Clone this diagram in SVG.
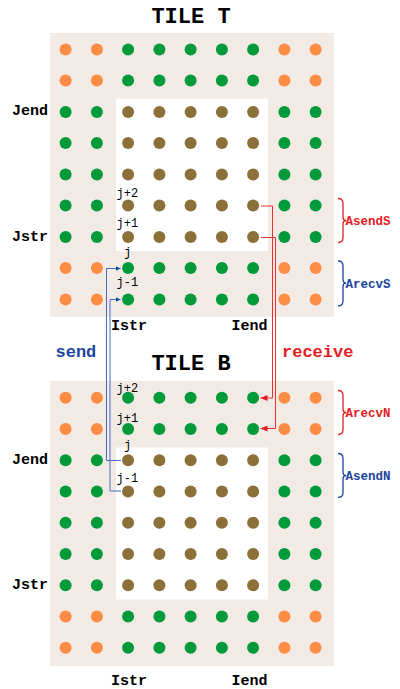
<svg xmlns="http://www.w3.org/2000/svg" xmlns:xlink="http://www.w3.org/1999/xlink" width="400" height="689" viewBox="0 0 400 689">
<style>
.bg{fill:#f2ebe5}
.in{fill:#ffffff}
.o{fill:#fd8c44}
.g{fill:#009a3b}
.b{fill:#8c703a}
.title{font-family:"Liberation Mono","DejaVu Sans Mono",monospace;font-weight:bold;font-size:22px;fill:#000}
.lbl{font-family:"Liberation Mono","DejaVu Sans Mono",monospace;font-weight:bold;font-size:15px;fill:#000}
.idx{font-family:"Liberation Mono","DejaVu Sans Mono",monospace;font-size:12px;fill:#000}
.side{font-family:"Liberation Mono","DejaVu Sans Mono",monospace;font-weight:bold;font-size:12.5px}
.big{font-family:"Liberation Mono","DejaVu Sans Mono",monospace;font-weight:bold;font-size:17px}
.red{fill:#e41b23}
.blue{fill:#1b44a0}
.brR{fill:none;stroke:#e41b23;stroke-width:1.3}
.brB{fill:none;stroke:#1b44a0;stroke-width:1.3}
.cB{fill:none;stroke:#4a6cbc;stroke-width:1}
.cR{fill:none;stroke:#f0302f;stroke-width:1}
</style>
<defs>
<g id="rowA">
<circle class="o" cx="65.6" cy="0" r="6"/><circle class="o" cx="96.9" cy="0" r="6"/>
<circle class="g" cx="128.1" cy="0" r="6"/><circle class="g" cx="159.4" cy="0" r="6"/><circle class="g" cx="190.6" cy="0" r="6"/><circle class="g" cx="221.9" cy="0" r="6"/><circle class="g" cx="253.1" cy="0" r="6"/>
<circle class="o" cx="284.4" cy="0" r="6"/><circle class="o" cx="315.6" cy="0" r="6"/>
</g>
<g id="rowB">
<circle class="g" cx="65.6" cy="0" r="6"/><circle class="g" cx="96.9" cy="0" r="6"/>
<circle class="b" cx="128.1" cy="0" r="6"/><circle class="b" cx="159.4" cy="0" r="6"/><circle class="b" cx="190.6" cy="0" r="6"/><circle class="b" cx="221.9" cy="0" r="6"/><circle class="b" cx="253.1" cy="0" r="6"/>
<circle class="g" cx="284.4" cy="0" r="6"/><circle class="g" cx="315.6" cy="0" r="6"/>
</g>
<marker id="arB" viewBox="0 0 5 5" refX="5" refY="2.5" markerWidth="5" markerHeight="5" markerUnits="userSpaceOnUse" orient="auto"><path d="M0,0 L5,2.5 L0,5 z" fill="#1b44a0"/></marker>
<marker id="arR" viewBox="0 0 7 6" refX="7" refY="3" markerWidth="7" markerHeight="6" markerUnits="userSpaceOnUse" orient="auto"><path d="M0,0 L7,3 L0,6 z" fill="#e41b23"/></marker>
</defs>

<g id="tileT">
<text class="title" x="191" y="22.5" text-anchor="middle">TILE T</text>
<rect class="bg" x="50" y="33" width="284" height="284"/>
<rect class="in" x="116" y="98.5" width="152" height="152.5"/>
<use xlink:href="#rowA" y="49.4"/>
<use xlink:href="#rowA" y="80.6"/>
<use xlink:href="#rowB" y="111.9"/>
<use xlink:href="#rowB" y="143.1"/>
<use xlink:href="#rowB" y="174.4"/>
<use xlink:href="#rowB" y="205.6"/>
<use xlink:href="#rowB" y="236.9"/>
<use xlink:href="#rowA" y="268.1"/>
<use xlink:href="#rowA" y="299.4"/>
<text class="lbl" x="48" y="115" text-anchor="end">Jend</text>
<text class="lbl" x="48" y="240.5" text-anchor="end">Jstr</text>
<text class="lbl" x="111" y="330">Istr</text>
<text class="lbl" x="231.5" y="330">Iend</text>
<text class="idx" x="116.5" y="196.5">j+2</text>
<text class="idx" x="116.5" y="226.5">j+1</text>
<text class="idx" x="124" y="255.5">j</text>
<text class="idx" x="116.5" y="286">j-1</text>
</g>

<g id="tileB">
<text class="title" x="191" y="370" text-anchor="middle">TILE B</text>
<rect class="bg" x="50" y="381" width="284" height="285"/>
<rect class="in" x="116" y="447.5" width="152" height="152"/>
<use xlink:href="#rowA" y="397.7"/>
<use xlink:href="#rowA" y="429"/>
<use xlink:href="#rowB" y="460.2"/>
<use xlink:href="#rowB" y="491.4"/>
<use xlink:href="#rowB" y="522.7"/>
<use xlink:href="#rowB" y="553.9"/>
<use xlink:href="#rowB" y="585.2"/>
<use xlink:href="#rowA" y="616.4"/>
<use xlink:href="#rowA" y="647.7"/>
<text class="lbl" x="48" y="463.5" text-anchor="end">Jend</text>
<text class="lbl" x="48" y="589" text-anchor="end">Jstr</text>
<text class="lbl" x="111" y="685">Istr</text>
<text class="lbl" x="231.5" y="685">Iend</text>
<text class="idx" x="116.5" y="391.5">j+2</text>
<text class="idx" x="116.5" y="421.5">j+1</text>
<text class="idx" x="124" y="449">j</text>
<text class="idx" x="116.5" y="481.5">j-1</text>
</g>

<g id="braces">
<path class="brR" d="M338,198.5 Q343,198.5 343,203.5 V216.5 Q343,220.5 346,220.5 Q343,220.5 343,224.5 V237.5 Q343,242.5 338,242.5"/>
<text class="side red" x="345.5" y="225">AsendS</text>
<path class="brB" d="M338,261 Q343,261 343,266 V279 Q343,283 346,283 Q343,283 343,287 V301 Q343,306 338,306"/>
<text class="side blue" x="345.5" y="287.5">ArecvS</text>
<path class="brR" d="M338,390.5 Q343,390.5 343,395.5 V408.5 Q343,412.5 346,412.5 Q343,412.5 343,416.5 V429.5 Q343,434.5 338,434.5"/>
<text class="side red" x="345.5" y="417">ArecvN</text>
<path class="brB" d="M338,453.5 Q343,453.5 343,458.5 V471.5 Q343,475.5 346,475.5 Q343,475.5 343,479.5 V492.5 Q343,497.5 338,497.5"/>
<text class="side blue" x="345.5" y="480">AsendN</text>
</g>

<g id="captions">
<text class="big blue" x="55.5" y="357">send</text>
<text class="big red" x="282" y="357">receive</text>
</g>

<g id="connectors">
<path class="cB" d="M121,460.5 H106.5 V268.5 H120.5" marker-end="url(#arB)"/>
<path class="cB" d="M121,491 H110 V299.5 H120.5" marker-end="url(#arB)"/>
<path class="cR" d="M261,206 H272.5 V398 H260.5" marker-end="url(#arR)"/>
<path class="cR" d="M261,237.5 H275.5 V428.5 H260.5" marker-end="url(#arR)"/>
</g>
</svg>
